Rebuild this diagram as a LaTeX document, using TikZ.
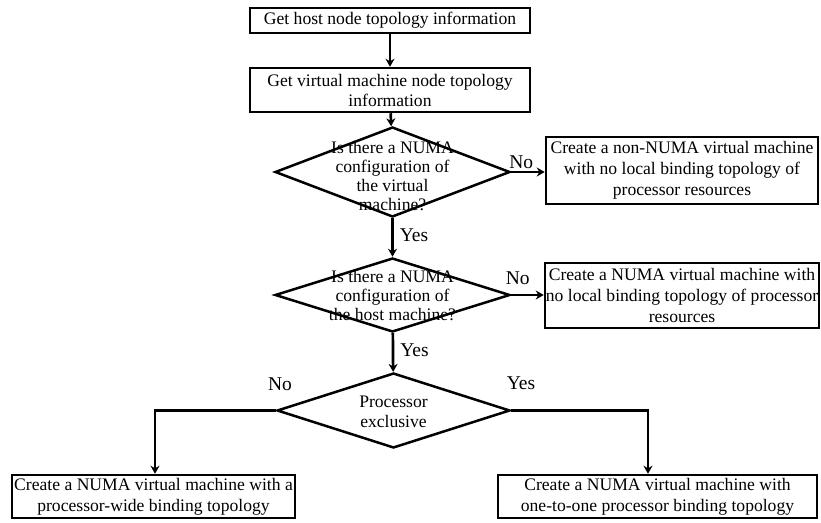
\documentclass[tikz,border=0pt]{standalone}
\usepackage{fontspec}
\setmainfont{Liberation Serif}
\usetikzlibrary{shapes.geometric,arrows.meta}
\begin{document}
\begin{tikzpicture}[x=1pt,y=-1pt,
  every node/.style={font=\fontsize{17.6}{21}\selectfont, inner sep=0pt, align=center},
  stepbox/.style={draw, line width=2.5pt, rectangle},
  decision/.style={draw, line width=2.5pt, diamond, inner sep=0pt},
  flow/.style={line width=2.7pt, -{Stealth[length=8pt,width=9pt]}},
  lbl/.style={font=\fontsize{19.5}{22}\selectfont}]
\useasboundingbox (0,0) rectangle (821,522);

% process boxes
\node[stepbox, minimum width=280pt, minimum height=25pt] (b1) at (390,20.5) {Get host node topology information};
\node[stepbox, minimum width=280pt, minimum height=44pt] (b2) at (390,90) {Get virtual machine node topology\\[-1pt]information};
\node[stepbox, minimum width=272pt, minimum height=67pt] (b3) at (682,170.5) {Create a non-NUMA virtual machine\\with no local binding topology of\\processor resources};
\node[stepbox, minimum width=274pt, minimum height=65pt] (b4) at (682,295.5) {Create a NUMA virtual machine with\\no local binding topology of processor\\resources};
\node[stepbox, minimum width=283pt, minimum height=43pt] (b5) at (153.5,496.5) {Create a NUMA virtual machine with a\\processor-wide binding topology};
\node[stepbox, minimum width=319pt, minimum height=43pt] (b6) at (657.5,496.5) {Create a NUMA virtual machine with\\one-to-one processor binding topology};

% decisions
\node[decision, minimum width=235pt, minimum height=90pt] (d1) at (392.5,172) {};
\node (t1) at (392.5,176) {Is there a NUMA\\[-2pt]configuration of\\[-2pt]the virtual\\[-2pt]machine?};
\node[decision, minimum width=235pt, minimum height=74pt] (d2) at (392.5,295) {};
\node (t2) at (392.5,296) {Is there a NUMA\\[-2pt]configuration of\\[-2pt]the host machine?};
\node[decision, minimum width=233pt, minimum height=75pt] (d3) at (393.5,410.5) {};
\node (t3) at (393.5,412) {Processor\\[-1pt]exclusive};

% connectors
\draw[flow] (b1) -- (b2);
\draw[flow] (b2) -- (d1);
\draw[flow] (d1) -- (d2) node[lbl, pos=0.45, anchor=west, xshift=6pt] {Yes};
\draw[flow] (d1.east) -- (b3.west |- d1.east) node[lbl, pos=0.3, anchor=south, yshift=2pt] {No};
\draw[flow] (d2) -- (d3) node[lbl, pos=0.45, anchor=west, xshift=6pt] {Yes};
\draw[flow] (d2.east) -- (b4.west |- d2.east) node[lbl, pos=0.2, anchor=south, yshift=9pt] {No};
\draw[flow] (d3.west) -| ([xshift=1.5pt]b5.north);
\draw[flow] (d3.east) -| ([xshift=-9.5pt]b6.north);
\node[lbl] (no3) at (280,384) {No};
\node[lbl] (yes3) at (521,383) {Yes};
\end{tikzpicture}
\end{document}
